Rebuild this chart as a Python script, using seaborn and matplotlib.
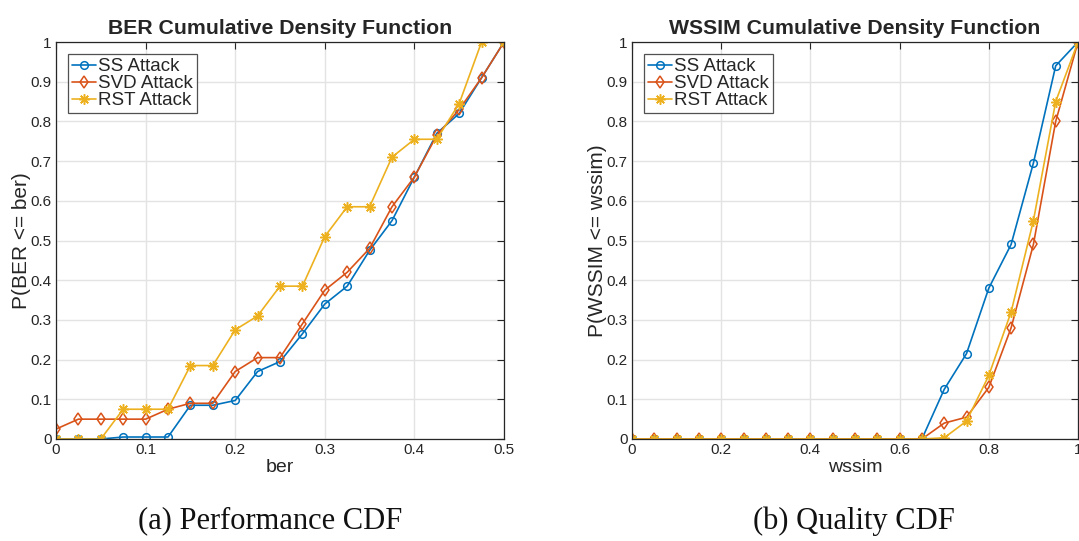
import numpy as np
import pandas as pd
import seaborn as sns
import matplotlib
matplotlib.use("Agg")
import matplotlib.pyplot as plt
from matplotlib.ticker import FuncFormatter

# BER thresholds and cumulative probabilities per attack
ber = [0.0, 0.025, 0.05, 0.075, 0.1, 0.125, 0.15, 0.175, 0.2, 0.225, 0.25,
       0.275, 0.3, 0.325, 0.35, 0.375, 0.4, 0.425, 0.45, 0.475, 0.5]
ber_ss = [0, 0, 0, 0.005, 0.005, 0.005, 0.085, 0.085, 0.097, 0.17, 0.195,
          0.265, 0.34, 0.385, 0.475, 0.55, 0.66, 0.77, 0.82, 0.91, 1.0]
ber_svd = [0.025, 0.05, 0.05, 0.05, 0.05, 0.075, 0.09, 0.09, 0.17, 0.205, 0.205,
           0.29, 0.375, 0.42, 0.48, 0.585, 0.66, 0.765, 0.83, 0.91, 1.0]
ber_rst = [0, 0, 0, 0.075, 0.075, 0.075, 0.185, 0.185, 0.275, 0.31, 0.385,
           0.385, 0.51, 0.585, 0.585, 0.71, 0.755, 0.755, 0.845, 1.0, 1.0]

# WSSIM thresholds and cumulative probabilities per attack
wssim = [0.0, 0.05, 0.1, 0.15, 0.2, 0.25, 0.3, 0.35, 0.4, 0.45, 0.5,
         0.55, 0.6, 0.65, 0.7, 0.75, 0.8, 0.85, 0.9, 0.95, 1.0]
wssim_ss = [0, 0, 0, 0, 0, 0, 0, 0, 0, 0, 0,
            0, 0, 0, 0.125, 0.215, 0.38, 0.49, 0.695, 0.94, 1.0]
wssim_svd = [0, 0, 0, 0, 0, 0, 0, 0, 0, 0, 0,
             0, 0, 0, 0.04, 0.055, 0.13, 0.28, 0.49, 0.80, 1.0]
wssim_rst = [0, 0, 0, 0, 0, 0, 0, 0, 0, 0, 0,
             0, 0, 0, 0.003, 0.045, 0.16, 0.32, 0.55, 0.85, 1.0]

labels = ["SS Attack", "SVD Attack", "RST Attack"]
x_ticks_ber = [0, 0.1, 0.2, 0.3, 0.4, 0.5]
x_ticks_wssim = [0, 0.2, 0.4, 0.6, 0.8, 1.0]
y_ticks = [0, 0.1, 0.2, 0.3, 0.4, 0.5, 0.6, 0.7, 0.8, 0.9, 1.0]

sns.set_style("white")
plt.rcParams["font.family"] = ["Liberation Sans", "DejaVu Sans"]

colors = ["#0072BD", "#D95319", "#EDB120"]
markers = ["o", "d", (8, 2, 0)]
msizes = [5.5, 6, 7.5]

fig = plt.figure(figsize=(10.79, 5.41), dpi=100)
ax1 = fig.add_axes([56 / 1079, 1 - 439 / 541, 448 / 1079, 397 / 541])
ax2 = fig.add_axes([632 / 1079, 1 - 439 / 541, 446 / 1079, 397 / 541])


def draw(ax, x, series, xticks, xlabel, ylabel, title):
    for y, lab, c, m, ms in zip(series, labels, colors, markers, msizes):
        df = pd.DataFrame({"x": x, "y": y})
        sns.lineplot(data=df, x="x", y="y", ax=ax, color=c, marker=m,
                     markersize=ms, markerfacecolor="none", markeredgecolor=c,
                     markeredgewidth=1.1, linewidth=1.2, label=lab)
    ax.set_xlim(xticks[0], xticks[-1])
    ax.set_ylim(0, 1)
    ax.set_xticks(xticks)
    ax.set_yticks(y_ticks)
    fmt = FuncFormatter(lambda v, p: ("%g" % round(v, 3)))
    ax.xaxis.set_major_formatter(fmt)
    ax.yaxis.set_major_formatter(fmt)
    ax.grid(True, color="#e3e3e3", linewidth=1.0)
    ax.tick_params(direction="in", top=True, right=True, length=5,
                   width=0.8, colors="#262626", labelsize=11, pad=3)
    for s in ax.spines.values():
        s.set_color("#262626")
        s.set_linewidth(0.9)
    ax.set_xlabel(xlabel, fontsize=14, color="#262626", labelpad=1)
    ax.set_ylabel(ylabel, fontsize=15, color="#262626", labelpad=0)
    ax.set_title(title, fontsize=15.3, fontweight="bold", pad=6)
    leg = ax.legend(loc="upper left", fontsize=13.5, frameon=True, fancybox=False,
                    edgecolor="#262626", borderpad=0.2, labelspacing=0.0,
                    handlelength=1.3, handletextpad=0.1, borderaxespad=0.65)
    leg.get_frame().set_linewidth(0.9)


draw(ax1, ber, [ber_ss, ber_svd, ber_rst], x_ticks_ber, "ber",
     "P(BER <= ber)", "BER Cumulative Density Function")
draw(ax2, wssim, [wssim_ss, wssim_svd, wssim_rst], x_ticks_wssim, "wssim",
     "P(WSSIM <= wssim)", "WSSIM Cumulative Density Function")

cap_font = dict(fontsize=22, family=["Liberation Serif", "DejaVu Serif"],
                color="#111111", ha="center", va="center")
fig.text(270 / 1079, 1 - 521 / 541, "(a) Performance CDF", **cap_font)
fig.text(854 / 1079, 1 - 521 / 541, "(b) Quality CDF", **cap_font)

fig.savefig("out.png", dpi=100)
